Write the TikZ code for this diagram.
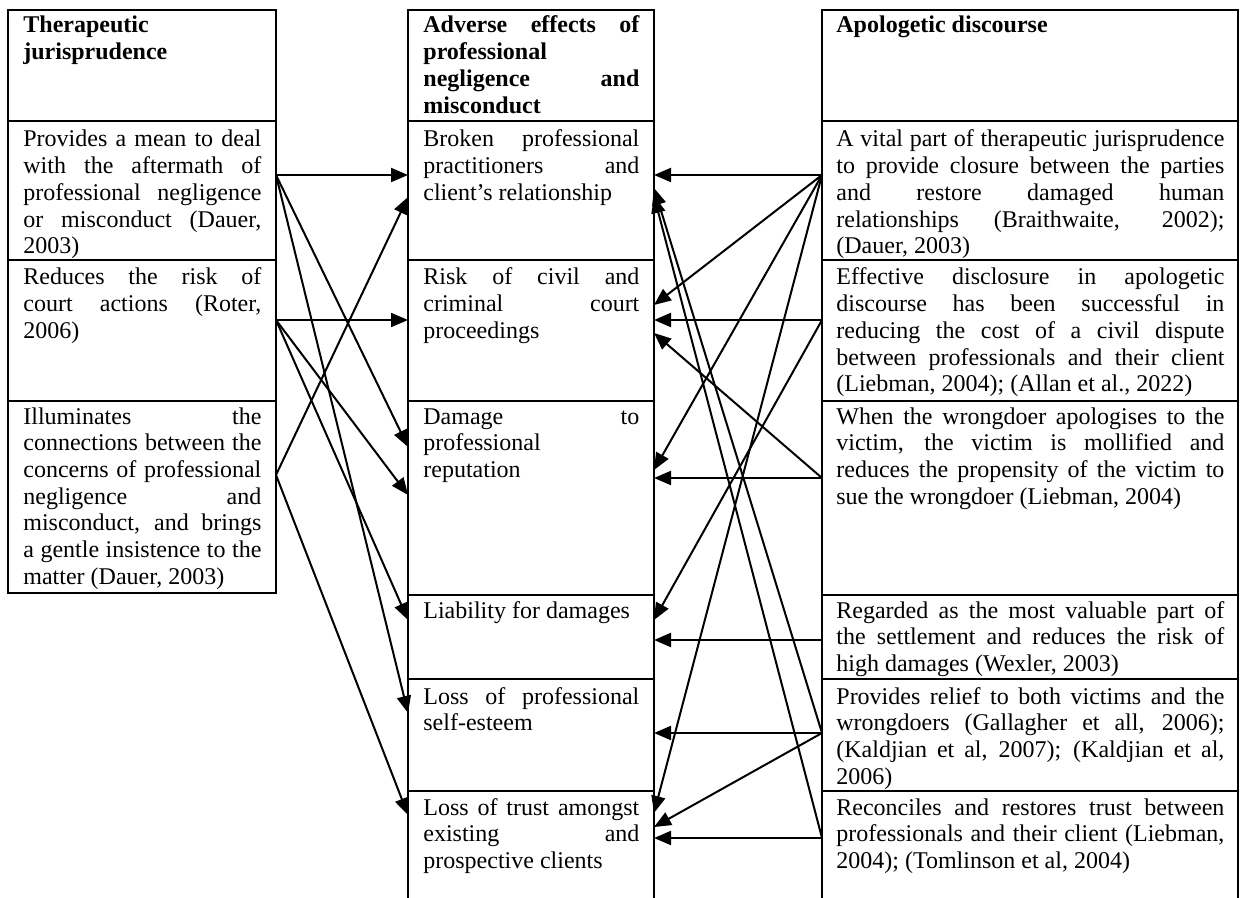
\documentclass[tikz,border=0pt]{standalone}
\usepackage{fontspec}
\setmainfont{Liberation Serif}
\usepackage{tikz}
\usetikzlibrary{arrows.meta}
\tolerance=10000
\hyphenpenalty=10000
\hbadness=10000

\begin{document}
\begin{tikzpicture}
[x=0.5pt,y=-0.5pt,
	 cell/.style={draw,line width=1.1pt,anchor=north west,inner sep=0pt,outer sep=0pt},
	 leftcell/.style={cell,minimum width=134pt},
	 midcell/.style={cell,minimum width=123pt},
	 rightcell/.style={cell,minimum width=208pt},
	 celltext/.style={anchor=base west,inner sep=0pt,align=justify,font=\fontsize{12}{13.35}\selectfont},
	 blackarrow/.style={-{Triangle[length=8.5pt,width=7pt]},line width=1pt}]
\useasboundingbox (0,0) rectangle (1241,898);

% left column
\node[leftcell,minimum height=55.5pt] (l0) at (8,10) {};
\node[leftcell,minimum height=69.5pt] (l1) at (8,121) {};
\node[leftcell,minimum height=70.5pt] (l2) at (8,260) {};
\node[leftcell,minimum height=96pt] (l3) at (8,401) {};

% middle column
\node[midcell,minimum height=55.5pt] (m0) at (408,10) {};
\node[midcell,minimum height=69.5pt] (m1) at (408,121) {};
\node[midcell,minimum height=70.5pt] (m2) at (408,260) {};
\node[midcell,minimum height=97pt] (m3) at (408,401) {};
\node[midcell,minimum height=42pt] (m4) at (408,595) {};
\node[midcell,minimum height=56pt] (m5) at (408,679) {};
\node[midcell,draw=none,minimum height=53.5pt] (m6) at (408,791) {};
\draw[line width=1.1pt] (m6.south west) |- (m6.north east) -- (m6.south east);

% right column
\node[rightcell,minimum height=55.5pt] (r0) at (822,10) {};
\node[rightcell,minimum height=69.5pt] (r1) at (822,121) {};
\node[rightcell,minimum height=70.5pt] (r2) at (822,260) {};
\node[rightcell,minimum height=97pt] (r3) at (822,401) {};
\node[rightcell,minimum height=42pt] (r4) at (822,595) {};
\node[rightcell,minimum height=56pt] (r5) at (822,679) {};
\node[rightcell,draw=none,minimum height=53.5pt] (r6) at (822,791) {};
\draw[line width=1.1pt] (r6.south west) |- (r6.north east) -- (r6.south east);

% texts
\node[celltext,text width=119pt] (l0t) at (23,33) {\textbf{Therapeutic\\ jurisprudence}};
\node[celltext,text width=119pt] (l1t) at (23,147) {Provides a mean to deal\linebreak with the aftermath of\linebreak professional negligence\linebreak or misconduct (Dauer,\linebreak 2003)};
\node[celltext,text width=119pt] (l2t) at (23,285) {Reduces the risk of\linebreak court actions (Roter,\linebreak 2006)};
\node[celltext,text width=119pt] (l3t) at (23,424) {Illuminates the\linebreak connections between the\linebreak concerns of professional\linebreak negligence and\linebreak misconduct, and brings\linebreak a gentle insistence to the\linebreak matter (Dauer, 2003)};

\node[celltext,text width=108pt] (m0t) at (423,33) {\textbf{Adverse effects of\linebreak professional\\ negligence and\linebreak misconduct}};
\node[celltext,text width=108pt] (m1t) at (423,147) {Broken professional\linebreak practitioners and\linebreak client’s relationship};
\node[celltext,text width=108pt] (m2t) at (423,285) {Risk of civil and\linebreak criminal court\linebreak proceedings};
\node[celltext,text width=108pt] (m3t) at (423,424) {Damage to\linebreak professional\\ reputation};
\node[celltext,text width=108pt] (m4t) at (423,618) {Liability for damages};
\node[celltext,text width=108pt] (m5t) at (423,704) {Loss of professional\linebreak self-esteem};
\node[celltext,text width=108pt] (m6t) at (423,815) {Loss of trust amongst\linebreak existing and\linebreak prospective clients};

\node[celltext,text width=194pt] (r0t) at (836,33) {\textbf{Apologetic discourse}};
\node[celltext,text width=194pt] (r1t) at (836,147) {A vital part of therapeutic jurisprudence\linebreak to provide closure between the parties\linebreak and restore damaged human\linebreak relationships (Braithwaite, 2002);\linebreak (Dauer, 2003)};
\node[celltext,text width=194pt] (r2t) at (836,285) {Effective disclosure in apologetic\linebreak discourse has been successful in\linebreak reducing the cost of a civil dispute\linebreak between professionals and their client\linebreak (Liebman, 2004); (Allan et al., 2022)};
\node[celltext,text width=194pt] (r3t) at (836,424) {When the wrongdoer apologises to the\linebreak victim, the victim is mollified and\linebreak reduces the propensity of the victim to\linebreak sue the wrongdoer (Liebman, 2004)};
\node[celltext,text width=194pt] (r4t) at (836,618) {Regarded as the most valuable part of\linebreak the settlement and reduces the risk of\linebreak high damages (Wexler, 2003)};
\node[celltext,text width=194pt] (r5t) at (836,704) {Provides relief to both victims and the\linebreak wrongdoers (Gallagher et all, 2006);\linebreak (Kaldjian et al, 2007); (Kaldjian et al,\linebreak 2006)};
\node[celltext,text width=194pt] (r6t) at (836,815) {Reconciles and restores trust between\linebreak professionals and their client (Liebman,\linebreak 2004); (Tomlinson et al, 2004)};

% arrows from the left
\draw[blackarrow] (l1.east |- 0,175) -- (m1.west |- 0,175);
\draw[blackarrow] (l1.east |- 0,175) -- (m3.west |- 0,447);
\draw[blackarrow] (l1.east |- 0,175) -- (m5.west |- 0,713);
\draw[blackarrow] (l2.east |- 0,320) -- (m2.west |- 0,320);
\draw[blackarrow] (l2.east |- 0,320) -- (m3.west |- 0,495);
\draw[blackarrow] (l2.east |- 0,320) -- (m4.west |- 0,620);
\draw[blackarrow] (l3.east |- 0,475) -- (m1.west |- 0,197);
\draw[blackarrow] (l3.east |- 0,475) -- (m6.west |- 0,815);

% arrows from the right
\draw[blackarrow] (r1.west |- 0,175) -- (m1.east |- 0,175);
\draw[blackarrow] (r1.west |- 0,175) -- (m2.east |- 0,305);
\draw[blackarrow] (r1.west |- 0,175) -- (m3.east |- 0,470);
\draw[blackarrow] (r1.west |- 0,175) -- (m6.east |- 0,813);
\draw[blackarrow] (r2.west |- 0,320) -- (m2.east |- 0,320);
\draw[blackarrow] (r2.west |- 0,320) -- (m4.east |- 0,620);
\draw[blackarrow] (r3.west |- 0,478) -- (m2.east |- 0,333);
\draw[blackarrow] (r3.west |- 0,478) -- (m3.east |- 0,478);
\draw[blackarrow] (r4.west |- 0,640) -- (m4.east |- 0,640);
\draw[blackarrow] (r5.west |- 0,733) -- (m5.east |- 0,733);
\draw[blackarrow] (r5.west |- 0,733) -- (m6.east |- 0,827);
\draw[blackarrow] (r5.west |- 0,733) -- (m1.east |- 0,188);
\draw[blackarrow] (r6.west |- 0,838) -- (m6.east |- 0,838);
\draw[blackarrow] (r6.west |- 0,838) -- (m1.east |- 0,196);

\end{tikzpicture}
\end{document}
